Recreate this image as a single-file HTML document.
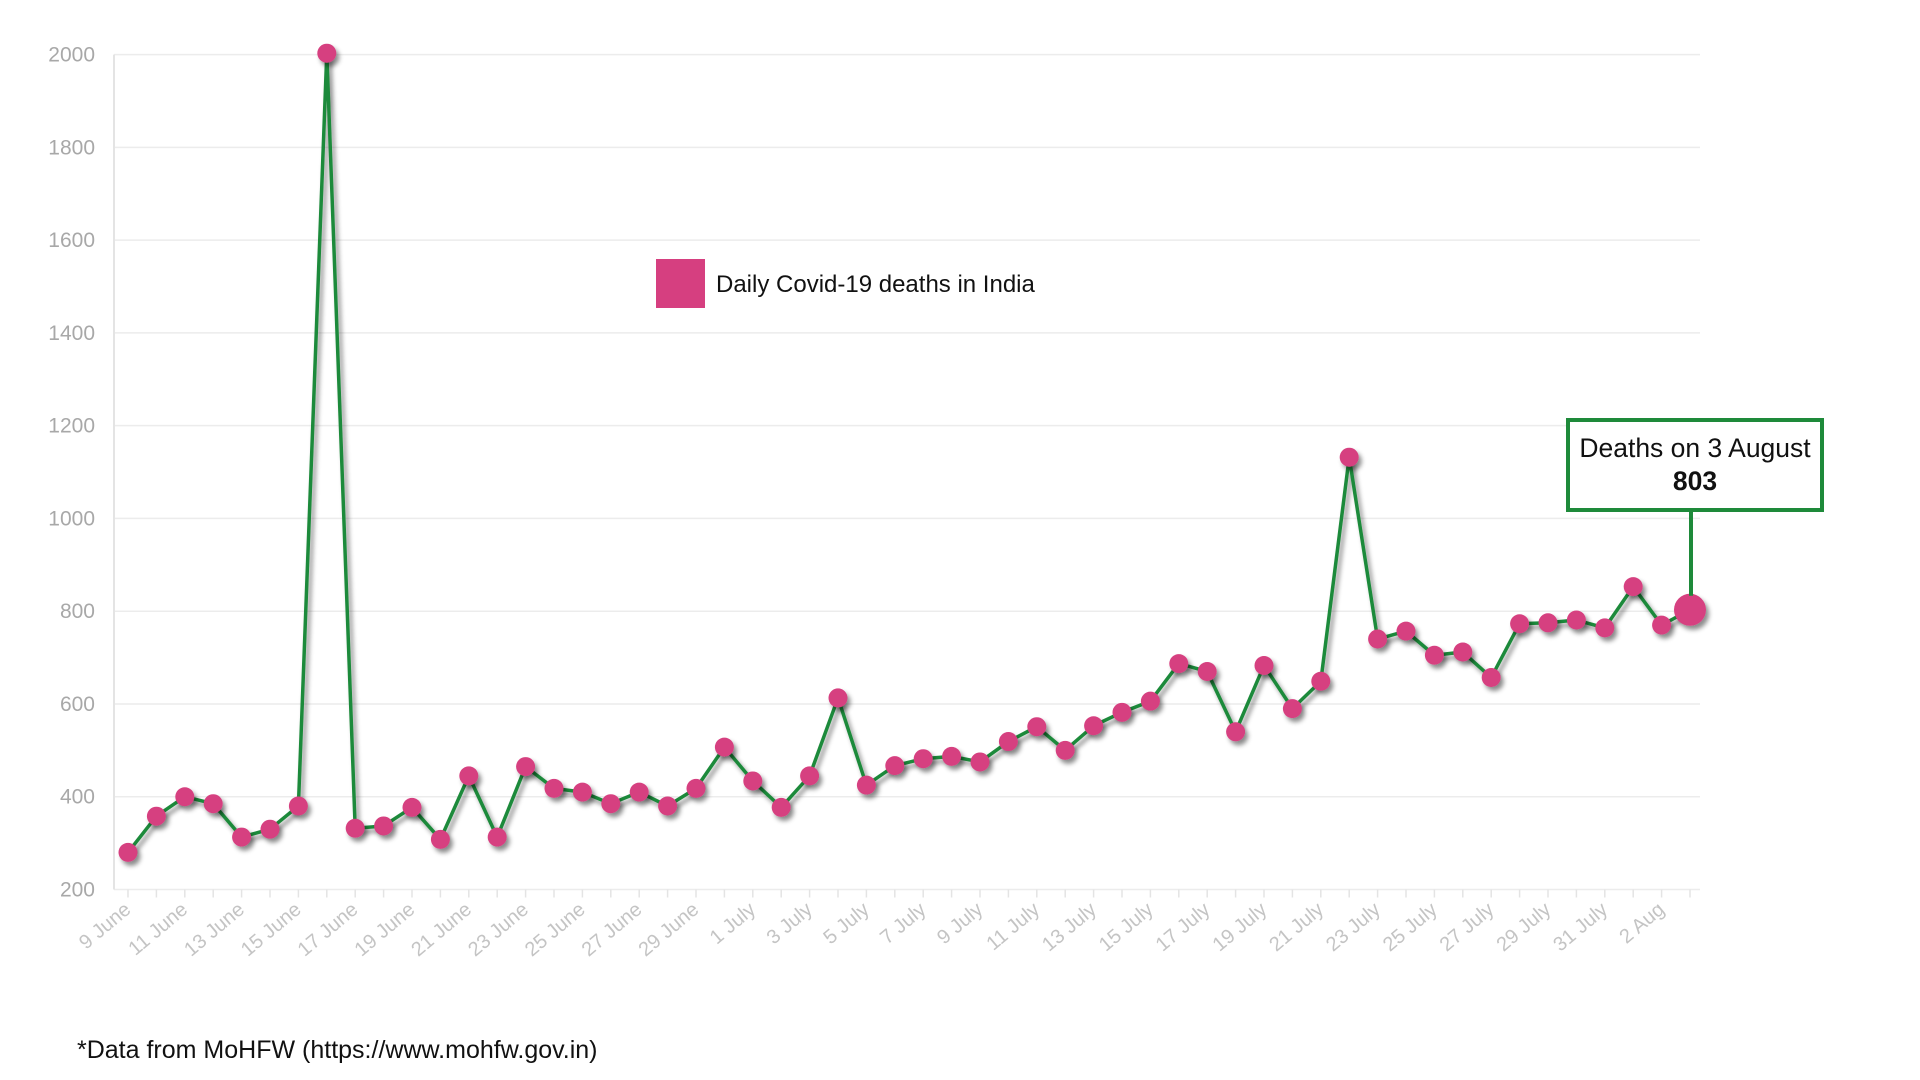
<!DOCTYPE html>
<html><head><meta charset="utf-8"><style>
body{margin:0;background:#fff;width:1920px;height:1080px;overflow:hidden;font-family:"Liberation Sans",sans-serif}
svg{display:block}
</style></head><body>
<svg id="chart" width="1920" height="1080">
<defs><filter id="sh" x="-50%" y="-50%" width="200%" height="200%"><feDropShadow dx="3" dy="4" stdDeviation="2.5" flood-color="#000" flood-opacity="0.45"/></filter></defs>
<g id="grid"></g><g id="axes"></g><g id="series"></g>
<g>
<rect x="656" y="259" width="49" height="49" fill="#d63f80"/>
<text x="716" y="292" font-size="24" fill="#111">Daily Covid-19 deaths in India</text>
</g>
<g>
<rect x="1568" y="420" width="254" height="90" fill="#fff" stroke="#1e8a3a" stroke-width="4"/>
<text x="1695" y="457" font-size="26.5" text-anchor="middle" fill="#111">Deaths on 3 August</text>
<text x="1695" y="490" font-size="26.5" font-weight="bold" text-anchor="middle" fill="#111">803</text>
<line id="annLine" x1="1691" y1="510" x2="1691" y2="590" stroke="#1e8a3a" stroke-width="4"/>
</g>
<text x="77" y="1058" font-size="25" fill="#111">*Data from MoHFW (https://www.mohfw.gov.in)</text>
</svg>
<script>
const dates=["9 June","10 June","11 June","12 June","13 June","14 June","15 June","16 June","17 June","18 June","19 June","20 June","21 June","22 June","23 June","24 June","25 June","26 June","27 June","28 June","29 June","30 June","1 July","2 July","3 July","4 July","5 July","6 July","7 July","8 July","9 July","10 July","11 July","12 July","13 July","14 July","15 July","16 July","17 July","18 July","19 July","20 July","21 July","22 July","23 July","24 July","25 July","26 July","27 July","28 July","29 July","30 July","31 July","1 Aug","2 Aug","3 Aug"];
const deaths=[280,358,400,385,313,330,380,2003,332,337,377,308,445,313,465,418,410,385,410,380,418,507,434,377,445,613,425,467,482,487,475,519,551,500,553,582,606,687,670,540,683,590,649,1132,740,757,705,712,657,773,775,781,764,853,770,803];
const yTicks=[200,400,600,800,1000,1200,1400,1600,1800,2000];
const X0=128,X1=1690,Y0=889.5,Y1=54.6,YMIN=200,YMAX=2000;
const xs=i=>X0+(X1-X0)*i/(dates.length-1);
const ys=v=>Y0-(v-YMIN)/(YMAX-YMIN)*(Y0-Y1);
const NS="http://www.w3.org/2000/svg";
function mk(t,a,p){const e=document.createElementNS(NS,t);for(const k in a)e.setAttribute(k,a[k]);p.appendChild(e);return e;}
const grid=document.getElementById('grid'),axes=document.getElementById('axes'),ser=document.getElementById('series');
yTicks.forEach(v=>{
const l=mk('line',{x1:114,x2:1700,y1:ys(v),y2:ys(v),stroke:'#ececec','stroke-width':1.5},grid);


const t=mk('text',{x:95,y:ys(v)+7,'text-anchor':'end','font-size':21,fill:'#a8a8a8'},axes);
t.textContent=v;


});
const ax=mk('line',{x1:114,x2:114,y1:Y1,y2:Y0,stroke:'#e4e4e4','stroke-width':2},axes);


dates.forEach((d,i)=>{
const tk=mk('line',{x1:xs(i),x2:xs(i),y1:Y0,y2:Y0+8,stroke:'#e4e4e4','stroke-width':1.5},axes);


if(i%2===0&&i<dates.length-1){
const x=xs(i)+4,y=Y0+22;
const t=mk('text',{x:x,y:y,'text-anchor':'end','font-size':20,fill:'#c4c4c4',transform:`rotate(-40 ${x} ${y})`},axes);
t.textContent=d;


}
});
const pts=deaths.map((v,i)=>xs(i)+','+ys(v)).join(' ');
const pl=mk('polyline',{points:pts,fill:'none',stroke:'#1e8a3a','stroke-width':3.5,'stroke-linejoin':'round',filter:'url(#sh)'},ser);


deaths.forEach((v,i)=>{
const last=i===deaths.length-1;
const c=mk('circle',{cx:xs(i),cy:ys(v),r:last?16:9.5,fill:'#d63f80',filter:'url(#sh)'},ser);


});
document.getElementById('annLine').setAttribute('y2',ys(deaths[deaths.length-1])-14);
</script>
</body></html>
